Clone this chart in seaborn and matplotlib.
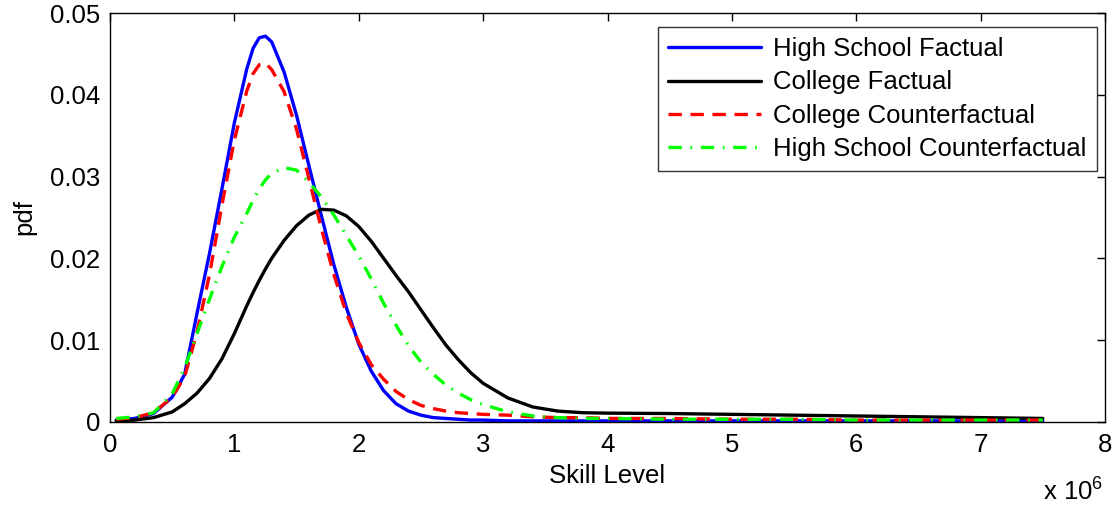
import numpy as np
import pandas as pd
import matplotlib
matplotlib.use("Agg")
import matplotlib.pyplot as plt
import seaborn as sns

# skill level grid (in units of 10^6)
skill = [0.05, 0.2, 0.35, 0.5, 0.6, 0.7, 0.8, 0.9, 1.0, 1.1, 1.15, 1.2, 1.25, 1.3,
         1.4, 1.5, 1.6, 1.7, 1.8, 1.9, 2.0, 2.1, 2.2, 2.3, 2.4, 2.5, 2.6, 2.7,
         2.8, 2.9, 3.0, 3.2, 3.4, 3.6, 3.8, 4.0, 4.5, 5.0, 5.5, 6.0, 6.5, 7.0, 7.5]

hs_factual = [0.0002, 0.0004, 0.0010, 0.0030, 0.0058, 0.0133, 0.0206, 0.0285, 0.0366,
              0.0432, 0.0457, 0.0470, 0.0472, 0.0465, 0.0428, 0.0375, 0.0313, 0.0252,
              0.0192, 0.0140, 0.0095, 0.0062, 0.0038, 0.0022, 0.0013, 0.0008, 0.0005,
              0.0004, 0.0003, 0.0002, 0.0002, 0.0001, 0.0001, 0.0001, 0.0001, 0.0001,
              0.0001, 0.0001, 0.0001, 0.0001, 0.0001, 0.0001, 0.0001]

col_factual = [0.0001, 0.0002, 0.0005, 0.0012, 0.0022, 0.0035, 0.0053, 0.0077, 0.0108,
               0.0142, 0.0158, 0.0173, 0.0187, 0.0200, 0.0222, 0.0240, 0.0253, 0.0260,
               0.0259, 0.0252, 0.0239, 0.0221, 0.0200, 0.0179, 0.0159, 0.0137, 0.0115,
               0.0094, 0.0076, 0.0060, 0.0047, 0.0029, 0.0018, 0.0013, 0.0011, 0.00105,
               0.0010, 0.0009, 0.0008, 0.0007, 0.0006, 0.0005, 0.0004]

col_counter = [0.0003, 0.0005, 0.0011, 0.0030, 0.0055, 0.0110, 0.0180, 0.0265, 0.0345,
               0.0405, 0.0426, 0.0437, 0.0439, 0.0431, 0.0404, 0.0358, 0.0297, 0.0236,
               0.0180, 0.0133, 0.0097, 0.0070, 0.0052, 0.0037, 0.0027, 0.0020, 0.0016,
               0.0013, 0.0011, 0.0010, 0.0009, 0.0008, 0.0006, 0.0005, 0.0005, 0.0004,
               0.0004, 0.0003, 0.0003, 0.0002, 0.0002, 0.0002, 0.0002]

hs_counter = [0.0004, 0.0006, 0.0011, 0.0034, 0.0066, 0.0108, 0.0150, 0.0190, 0.0226,
              0.0255, 0.0271, 0.0285, 0.0296, 0.0304, 0.0311, 0.0308, 0.0293, 0.0275,
              0.0253, 0.0228, 0.0203, 0.0175, 0.0145, 0.0118, 0.0093, 0.0073, 0.0058,
              0.0045, 0.0035, 0.0027, 0.0021, 0.0012, 0.0007, 0.0005, 0.0004, 0.0004,
              0.0003, 0.0003, 0.0003, 0.0002, 0.0002, 0.0002, 0.0002]

labels = ["High School Factual", "College Factual",
          "College Counterfactual", "High School Counterfactual"]
colors = ["#0000ff", "#000000", "#ff0000", "#00ff00"]
styles = ["-", "-", (0, (4, 2.6)), (0, (4, 2.6, 0.5, 2.6))]

df = pd.DataFrame({"skill": skill, labels[0]: hs_factual, labels[1]: col_factual,
                   labels[2]: col_counter, labels[3]: hs_counter})
long = df.melt(id_vars="skill", var_name="group", value_name="pdf")

sns.set_style("white")
plt.rcParams["font.family"] = ["Liberation Sans", "DejaVu Sans"]
plt.rcParams["text.color"] = "black"
plt.rcParams["axes.labelcolor"] = "black"
plt.rcParams["mathtext.fontset"] = "custom"
plt.rcParams["mathtext.rm"] = "Liberation Sans"
plt.rcParams["mathtext.it"] = "Liberation Sans"

FS = 18.5

fig = plt.figure(figsize=(11.19, 5.09), dpi=100)
ax = fig.add_axes([0.0983, 0.1715, 0.8892, 0.8024])

for lab, c, ls in zip(labels, colors, styles):
    sub = long[long["group"] == lab]
    sns.lineplot(data=sub, x="skill", y="pdf", ax=ax, color=c, linestyle=ls,
                 linewidth=2.4, label=lab)

ax.set_xlim(0, 8)
ax.set_ylim(0, 0.05)
ax.set_xticks(range(0, 9))
ax.set_yticks([0, 0.01, 0.02, 0.03, 0.04, 0.05])
ax.set_yticklabels(["0", "0.01", "0.02", "0.03", "0.04", "0.05"])
ax.tick_params(direction="in", length=6, width=1, top=True, right=True,
               labelsize=FS, colors="black", labelcolor="black")
ax.tick_params(axis="x", pad=8)
ax.tick_params(axis="y", pad=7)
for s in ax.spines.values():
    s.set_color("black")
    s.set_linewidth(1.0)

ax.set_xlabel("Skill Level", fontsize=FS, labelpad=5, color="black")
ax.set_ylabel("pdf", fontsize=FS, labelpad=10, color="black")
fig.text(1103 / 1119, 8 / 509, r"x 10$^{\mathrm{6}}$", ha="right", va="baseline",
         fontsize=FS, color="black")

leg = ax.legend(loc="upper right", bbox_to_anchor=(0.992, 0.9665), borderaxespad=0,
                fontsize=FS, handlelength=3.6, frameon=True, fancybox=False,
                edgecolor="black", labelspacing=0.36, borderpad=0.4,
                handletextpad=0.5, labelcolor="black")
leg.get_frame().set_linewidth(1.0)

fig.savefig("out.png", dpi=100)
